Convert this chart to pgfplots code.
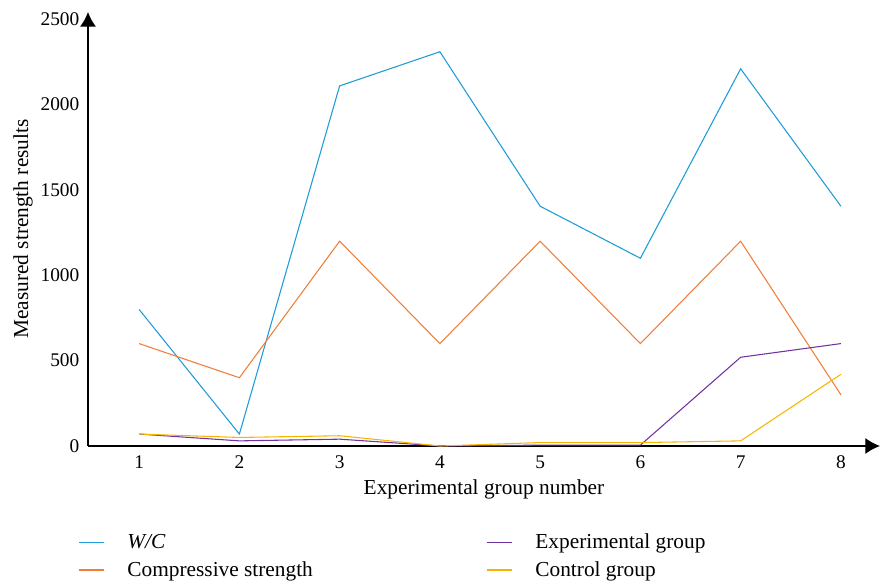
\documentclass[border=0pt]{standalone}
\usepackage{pgfplots}
\pgfplotsset{compat=1.18}
\usepackage{fontspec}
\setmainfont{Liberation Serif}
\usetikzlibrary{arrows.meta}
\definecolor{cblue}{HTML}{1F9BD7}
\definecolor{corange}{HTML}{F07E3A}
\definecolor{cpurple}{HTML}{7232A0}
\definecolor{cyellow}{HTML}{F7B500}
\begin{document}
\begin{tikzpicture}
\begin{axis}[
  at={(0,0)}, anchor=origin,
  scale only axis,
  width=594pt, height=325.5pt,
  xmin=0.49, xmax=8.39,
  ymin=0, ymax=2543,
  axis lines=left,
  axis line style={line width=1pt, -{Latex[length=11pt,width=12pt]}},
  xtick={1,...,8},
  ytick={0,500,...,2500},
  major tick length=0pt,
  tick label style={font=\fontsize{14.5pt}{17pt}\selectfont},
  /pgf/number format/assume math mode=true,
  /pgf/number format/1000 sep={},
  xticklabel style={yshift=-4pt},
  yticklabel style={xshift=-3pt},
  xlabel={Experimental group number},
  ylabel={Measured strength results},
  label style={font=\fontsize{16pt}{19pt}\selectfont},
  xlabel style={yshift=-1pt},
  ylabel style={yshift=-1pt},
  clip=false,
  legend columns=2,
  transpose legend,
  legend cell align=left,
  legend style={at={(-0.0177,-0.19)}, anchor=north west, draw=none, fill=none,
    font=\fontsize{16pt}{19pt}\selectfont,
    row sep=4pt,
    /tikz/column 1/.style={column sep=15pt},
    /tikz/column 2/.style={column sep=128pt},
    /tikz/column 3/.style={column sep=15pt}},
  legend image code/.code={\draw[#1, line width=0.9pt] (0pt,0pt) -- (19pt,0pt);},
  every axis plot/.append style={line width=0.8pt},
]
\addplot[cblue] coordinates {(1,800) (2,70) (3,2110) (4,2310) (5,1405) (6,1100) (7,2210) (8,1405)};
\addlegendentry{\textit{W/C}}
\addplot[corange] coordinates {(1,600) (2,400) (3,1200) (4,600) (5,1200) (6,600) (7,1200) (8,300)};
\addlegendentry{Compressive strength}
\addplot[cpurple] coordinates {(1,70) (2,30) (3,40) (4,0) (5,5) (6,5) (7,520) (8,600)};
\addlegendentry{Experimental group}
\addplot[cyellow] coordinates {(1,70) (2,50) (3,60) (4,0) (5,20) (6,20) (7,30) (8,420)};
\addlegendentry{Control group}
\end{axis}
\pgfresetboundingbox
\path (-66pt,-103.5pt) rectangle (595.5pt,334.5pt);
\end{tikzpicture}
\end{document}
